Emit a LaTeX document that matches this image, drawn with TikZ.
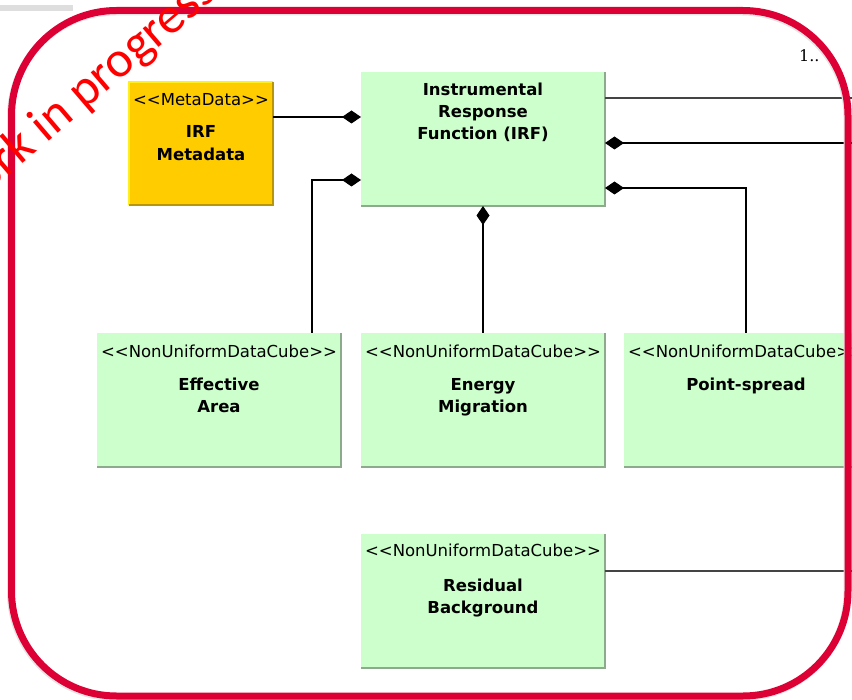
\documentclass[tikz,border=0pt]{standalone}
\usepackage{fontspec}
\newfontfamily\umlfont{DejaVu Sans}
\newfontfamily\wipfont{Carlito}
\newfontfamily\multfont{DejaVu Serif}
\usetikzlibrary{arrows.meta}
\definecolor{umlgreen}{HTML}{CCFFCC}
\definecolor{greenedge}{HTML}{8DAA8D}
\definecolor{metagold}{HTML}{FFCC00}
\definecolor{metalight}{HTML}{FFEE22}
\definecolor{metadark}{HTML}{B8960A}
\definecolor{framered}{HTML}{DD0035}
\definecolor{linegray}{HTML}{444444}
\begin{document}
\begin{tikzpicture}[x=1pt,y=-1pt,
  classbox/.style={rectangle, anchor=north west, inner sep=0pt, outer sep=0pt,
    minimum width=244pt, minimum height=134pt, fill=umlgreen},
  metabox/.style={rectangle, anchor=north west, inner sep=0pt, outer sep=0pt,
    minimum width=144pt, minimum height=123pt, fill=metagold},
  boxedge/.style={draw=greenedge, line width=2pt},
  stereo/.style={anchor=base, inner sep=0pt, font=\umlfont\fontsize{16.5}{19}\selectfont},
  cname/.style={anchor=base, inner sep=0pt, font=\umlfont\bfseries\fontsize{16.5}{20}\selectfont},
  compo/.style={{Diamond[length=19pt,width=13pt]}-, draw=black, line width=1.4pt},
  assoc/.style={draw=linegray, line width=1.6pt},
  frameline/.style={draw=framered, line width=7pt, rounded corners=105pt},
]
\useasboundingbox (0,0) rectangle (852,700);
\clip (0,0) rectangle (852,700);
\fill[white] (0,0) rectangle (852,700);

% small grey bar at the top left
\fill[black!13] (0,5) rectangle (73,11);

% classes
\node[metabox] (md) at (129,82) {};
\draw[metalight, line width=2pt] (md.south west) -- (md.north west) -- (md.north east);
\draw[metadark, line width=2.5pt] (md.north east) -- (md.south east) -- (md.south west);
\node[classbox] (irf) at (361,72) {};
\node[classbox] (ea) at (97,333) {};
\node[classbox] (em) at (361,333) {};
\node[classbox] (ps) at (624,333) {};
\node[classbox] (rb) at (361,534) {};
\foreach \b in {irf,ea,em,ps,rb}
  \draw[boxedge] (\b.north east) -- (\b.south east) -- (\b.south west);

% labels
\node[stereo] (mdS) at ([yshift=-24pt]md.north) {<{}<MetaData>{}>};
\node[cname] (mdA) at ([yshift=-56pt]md.north) {IRF};
\node[cname] (mdB) at ([yshift=-79pt]md.north) {Metadata};

\node[cname] (irfA) at ([yshift=-24pt]irf.north) {Instrumental};
\node[cname] (irfB) at ([yshift=-46pt]irf.north) {Response};
\node[cname] (irfC) at ([yshift=-68pt]irf.north) {Function (IRF)};

\node[stereo] (eaS) at ([yshift=-25pt]ea.north) {<{}<NonUniformDataCube>{}>};
\node[cname] (eaA) at ([yshift=-58pt]ea.north) {Effective};
\node[cname] (eaB) at ([yshift=-80pt]ea.north) {Area};

\node[stereo] (emS) at ([yshift=-25pt]em.north) {<{}<NonUniformDataCube>{}>};
\node[cname] (emA) at ([yshift=-58pt]em.north) {Energy};
\node[cname] (emB) at ([yshift=-80pt]em.north) {Migration};

\node[stereo] (psS) at ([yshift=-25pt]ps.north) {<{}<NonUniformDataCube>{}>};
\node[cname] (psA) at ([yshift=-58pt]ps.north) {Point-spread};

\node[stereo] (rbS) at ([yshift=-23pt]rb.north) {<{}<NonUniformDataCube>{}>};
\node[cname] (rbA) at ([yshift=-57pt]rb.north) {Residual};
\node[cname] (rbB) at ([yshift=-79pt]rb.north) {Background};

% connectors
\coordinate (m1) at ([yshift=-35pt]md.north east);
\draw[compo] (m1 -| irf.west) -- (m1);
\draw[compo] ([yshift=-108pt]irf.north west) -| ([xshift=-29pt]ea.north east);
\draw[compo] (irf.south) -- (em.north);
\draw[compo] ([yshift=-116pt]irf.north east) -| (ps.north);
\coordinate (outA) at (852,98);
\coordinate (outB) at (852,143);
\coordinate (outC) at (852,571);
\draw[assoc] ([yshift=-26pt]irf.north east) -- (outA);
\draw[compo] ([yshift=-71pt]irf.north east) -- (outB);
\draw[assoc] ([yshift=-37pt]rb.north east) -- (outC);

% multiplicity
\node[anchor=base west, inner sep=0pt, font=\multfont\fontsize{16}{18}\selectfont] (mult) at (799,62) {1..};

% red frame with a soft shadow
\draw[frameline, draw=black!10] (10.5,12) rectangle (847,697.5);
\draw[frameline] (11.5,10.5) rectangle (848,696);

% stamp
\node[rotate=40.5, anchor=base west, inner sep=0pt, text=red,
  font=\wipfont\fontsize{51}{57}\selectfont] (wip) at (-47,223) {Work in progress};
\end{tikzpicture}
\end{document}
